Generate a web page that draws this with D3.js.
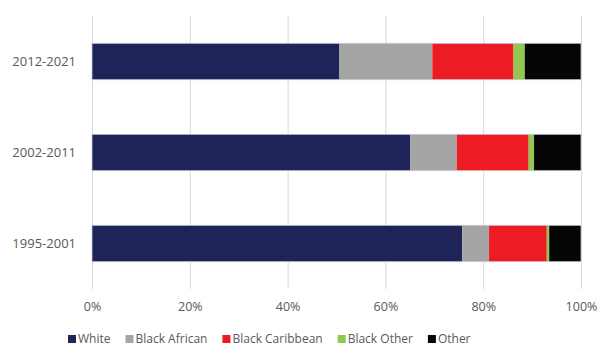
<!DOCTYPE html>
<html>
<head>
<meta charset="utf-8">
<script src="https://cdn.jsdelivr.net/npm/d3@7"></script>
<style>
  html, body { margin: 0; padding: 0; background: #fff; }
  svg text { font-family: "Open Sans", "Liberation Sans", sans-serif; fill: #595959; }
</style>
</head>
<body>
<svg id="chart" width="599" height="348"></svg>
<script>
// periods, top to bottom
const periods = ['2012-2021', '2002-2011', '1995-2001'];
const groups = ['White', 'Black African', 'Black Caribbean', 'Black Other', 'Other'];
const colors = ['#1f2458', '#a5a5a5', '#ed1c24', '#92c84f', '#050505'];
// percent shares per period
const white = [50.6, 65.1, 75.7];
const blackAfrican = [19.0, 9.5, 5.5];
const blackCaribbean = [16.6, 14.7, 11.8];
const blackOther = [2.3, 1.1, 0.5];
const other = [11.5, 9.6, 6.5];
const ticks = [0, 20, 40, 60, 80, 100];

const margin = { top: 16, right: 18, bottom: 59, left: 92 };
const width = 599 - margin.left - margin.right;
const height = 348 - margin.top - margin.bottom;

const rows = periods.map((p, i) => ({
  period: p,
  'White': white[i],
  'Black African': blackAfrican[i],
  'Black Caribbean': blackCaribbean[i],
  'Black Other': blackOther[i],
  'Other': other[i]
}));

const stacked = d3.stack().keys(groups)(rows);

const x = d3.scaleLinear().domain([0, 100]).range([0, width]);
const y = d3.scaleBand().domain(periods).range([0, height]).paddingInner(0.6).paddingOuter(0.3);

const svg = d3.select('#chart');
const g = svg.append('g').attr('transform', `translate(${margin.left},${margin.top})`);

// vertical gridlines
g.selectAll('.grid')
  .data(ticks)
  .enter().append('line')
  .attr('x1', d => x(d) + 0.5)
  .attr('x2', d => x(d) + 0.5)
  .attr('y1', 0)
  .attr('y2', height)
  .attr('stroke', '#d9d9d9')
  .attr('stroke-width', 1);

// bars
g.selectAll('.series')
  .data(stacked)
  .enter().append('g')
  .attr('fill', (d, i) => colors[i])
  .selectAll('rect')
  .data(d => d)
  .enter().append('rect')
  .attr('x', d => x(d[0]))
  .attr('y', d => y(d.data.period))
  .attr('width', d => x(d[1]) - x(d[0]))
  .attr('height', y.bandwidth());

// thin outline around each whole bar
g.selectAll('.outline')
  .data(periods)
  .enter().append('rect')
  .attr('x', x(0))
  .attr('y', d => y(d))
  .attr('width', x(100) - x(0))
  .attr('height', y.bandwidth())
  .attr('fill', 'none')
  .attr('stroke', '#c9c9d9')
  .attr('stroke-width', 0.8);

// x axis labels
const xAxis = g.append('g')
  .attr('transform', `translate(0,${height})`)
  .call(d3.axisBottom(x).tickValues(ticks).tickFormat(d => d + '%').tickSize(0).tickPadding(13));
xAxis.select('.domain').remove();
xAxis.selectAll('text').style('font-size', '12.5px').attr('fill', '#595959');

// y axis labels
const yAxis = g.append('g')
  .call(d3.axisLeft(y).tickSize(0).tickPadding(16));
yAxis.select('.domain').remove();
yAxis.selectAll('text').style('font-size', '13px').attr('fill', '#595959');

// legend
const legend = svg.append('g').attr('transform', 'translate(68,339)');
let lx = 0;
groups.forEach((name, i) => {
  const item = legend.append('g').attr('transform', `translate(${lx},0)`);
  item.append('rect')
    .attr('x', 0).attr('y', -4)
    .attr('width', 8).attr('height', 8)
    .attr('fill', colors[i]);
  const t = item.append('text')
    .attr('x', 10).attr('y', 0)
    .attr('dy', '0.35em')
    .style('font-size', '12px')
    .text(name);
  lx += 10 + t.node().getComputedTextLength() + 15;
});
</script>
</body>
</html>
